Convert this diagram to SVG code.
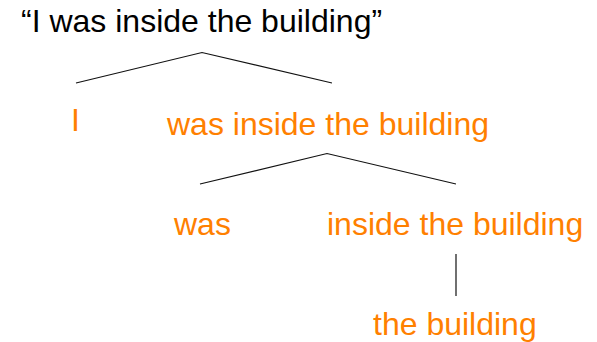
<svg xmlns="http://www.w3.org/2000/svg" width="597" height="342" viewBox="0 0 597 342">
<style>
text{font-family:"Liberation Sans",Arial,Helvetica,sans-serif;font-size:32px}
.o{fill:#ff8000}
.k{fill:#000}
.c{stroke:#111;stroke-width:1.2;fill:none}
</style>
<rect width="597" height="342" fill="#fff"/>
<g id="root"><text class="k" x="21" y="32">“I was inside the building”</text></g>
<g id="n-I"><text class="o" x="71" y="131">I</text></g>
<g id="n-vp"><text class="o" x="167" y="134.5">was inside the building</text></g>
<g id="n-was"><text class="o" x="174" y="235">was</text></g>
<g id="n-pp"><text class="o" x="327" y="235">inside the building</text></g>
<g id="n-np"><text class="o" x="373" y="335">the building</text></g>
<g id="connectors">
<polyline class="c" points="76,83 202,52.5 332,83"/>
<polyline class="c" points="200,184 327,153.5 456,184"/>
<line class="c" x1="456" y1="254" x2="456" y2="296"/>
</g>
</svg>
